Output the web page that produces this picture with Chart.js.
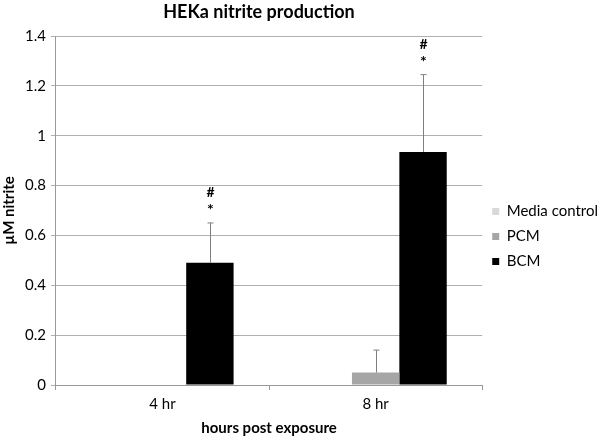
<!DOCTYPE html>
<html lang="en">
<head>
  <meta charset="UTF-8" />
  <title>HEKa nitrite production</title>
  <script src="https://cdn.jsdelivr.net/npm/chart.js"></script>
  <style>
    body { margin: 0; background: #fff; }
    #chart { display: block; }
  </style>
</head>
<body>
  <canvas id="chart" width="600" height="437"></canvas>
  <script>
    // data
    const categories = ["4 hr", "8 hr"];
    const mediaControl = [0, 0];
    const pcm = [0, 0.05];
    const bcm = [0.49, 0.935];
    const pcmErr = [0, 0.09];
    const bcmErr = [0.16, 0.31];
    const bcmMarks = [["#", "*"], ["#", "*"]];

    const FONT = "Lato, 'Open Sans', sans-serif";

    // one-sided error bars + significance marks + title over the plot area
    const extras = {
      id: "extras",
      afterDatasetsDraw(chart) {
        const ctx = chart.ctx;
        const y = chart.scales.y;
        const errs = { 1: pcmErr, 2: bcmErr };
        ctx.save();
        ctx.strokeStyle = "#7f7f7f";
        ctx.lineWidth = 1;
        for (const di in errs) {
          const meta = chart.getDatasetMeta(+di);
          const vals = chart.data.datasets[di].data;
          meta.data.forEach((bar, i) => {
            if (!errs[di][i]) return;
            const top = y.getPixelForValue(vals[i] + errs[di][i]);
            const x = Math.round(bar.x) + 0.5;
            ctx.beginPath();
            ctx.moveTo(x, bar.y);
            ctx.lineTo(x, top);
            ctx.moveTo(x - 3, top);
            ctx.lineTo(x + 3, top);
            ctx.stroke();
            if (di == 2) {
              ctx.fillStyle = "#000";
              ctx.textAlign = "center";
              ctx.textBaseline = "alphabetic";
              ctx.font = "bold 16px " + FONT;
              ctx.fillText(bcmMarks[i][1], x, top - 8);
              ctx.font = "bold 14px " + FONT;
              ctx.fillText(bcmMarks[i][0], x, top - 26);
            }
          });
        }
        ctx.fillStyle = "#000";
        ctx.font = "bold 18px " + FONT;
        ctx.textAlign = "center";
        ctx.textBaseline = "middle";
        ctx.fillText("HEKa nitrite production", 259, 12);
        ctx.restore();
      }
    };

    new Chart(document.getElementById("chart"), {
      type: "bar",
      data: {
        labels: categories,
        datasets: [
          { label: "Media control", data: mediaControl, backgroundColor: "#d9d9d9" },
          { label: "PCM", data: pcm, backgroundColor: "#a6a6a6" },
          { label: "BCM", data: bcm, backgroundColor: "#000000" }
        ]
      },
      options: {
        responsive: false,
        animation: false,
        layout: { padding: { top: 36, left: 0, right: -8, bottom: 0 } },
        datasets: { bar: { categoryPercentage: 0.667, barPercentage: 1 } },
        plugins: {
          title: { display: false },
          tooltip: { enabled: false },
          legend: {
            position: "right",
            labels: {
              boxWidth: 7, boxHeight: 7, padding: 10,
              color: "#000",
              font: { family: FONT, size: 15 }
            }
          }
        },
        scales: {
          x: {
            grid: { drawOnChartArea: false, offset: true, tickLength: 5, color: "#999" },
            border: { color: "#999" },
            ticks: { color: "#000", font: { family: FONT, size: 15 }, padding: 5 },
            title: { display: true, text: "hours post exposure", color: "#000",
                     font: { family: FONT, size: 15, weight: "bold" }, padding: { top: 1, bottom: 0 } }
          },
          y: {
            min: 0, max: 1.4,
            ticks: {
              stepSize: 0.2, color: "#000", font: { family: FONT, size: 15 }, padding: 5,
              callback: v => String(+v.toFixed(1))
            },
            grid: { color: "#b0b0b0", tickLength: 5 },
            border: { color: "#999" },
            title: { display: true, text: "µM nitrite", color: "#000",
                     font: { family: FONT, size: 15, weight: "bold" }, padding: { top: 0, bottom: 2 } }
          }
        }
      },
      plugins: [extras]
    });
  </script>
</body>
</html>
